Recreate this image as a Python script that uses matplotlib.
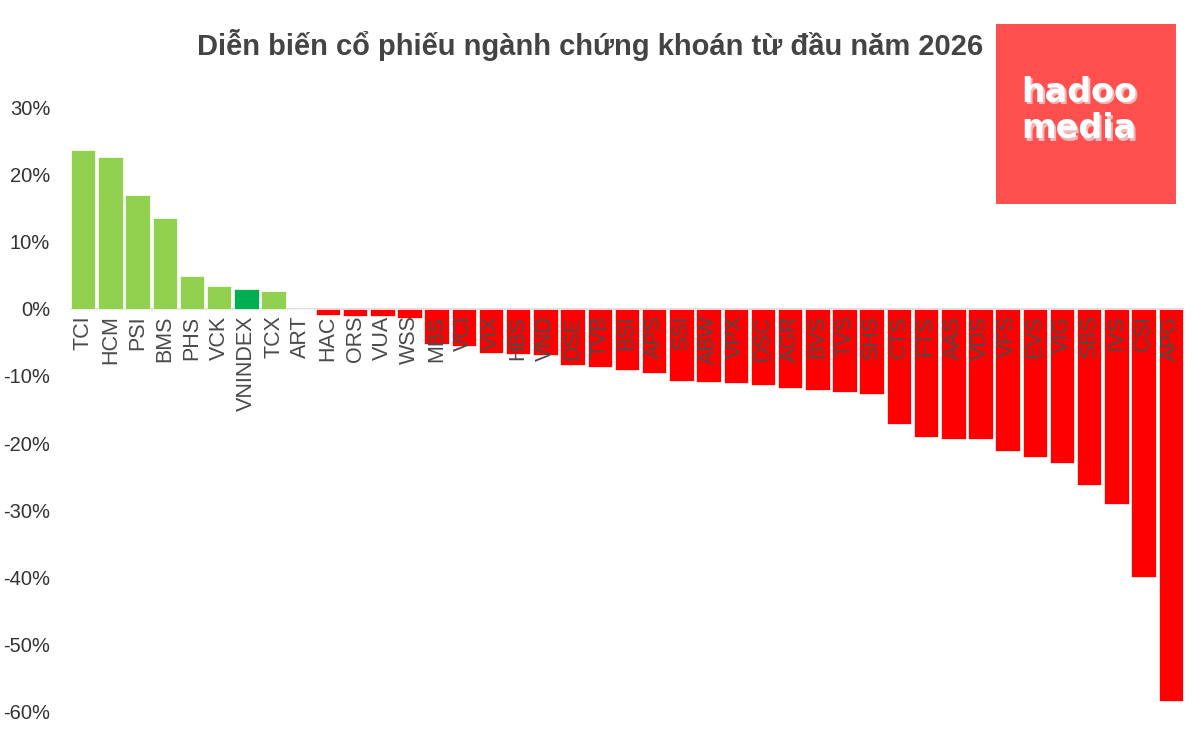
import numpy as np
import matplotlib
matplotlib.use("Agg")
import matplotlib.pyplot as plt
from matplotlib.patches import Rectangle

# === DATA ===
tickers = ["TCI", "HCM", "PSI", "BMS", "PHS", "VCK", "VNINDEX", "TCX", "ART",
           "HAC", "ORS", "VUA", "WSS", "MBS", "VCI", "VIX", "HBS", "VND",
           "DSE", "TVB", "BSI", "APS", "SSI", "ABW", "VPX", "DSC", "AGR",
           "BVS", "TVS", "SHS", "CTS", "FTS", "AAS", "VDS", "VFS", "EVS",
           "VIG", "SBS", "IVS", "CSI", "APG"]
change_pct = [23.6, 22.6, 16.9, 13.5, 4.8, 3.3, 3.0, 2.7, 0.0,
              -1.0, -1.1, -1.1, -1.4, -5.3, -5.6, -6.6, -6.8, -6.9,
              -8.4, -8.7, -9.1, -9.6, -10.8, -10.9, -11.1, -11.4, -11.8,
              -12.1, -12.4, -12.7, -17.1, -19.1, -19.4, -19.4, -21.1, -22.1,
              -22.9, -26.3, -29.0, -39.9, -58.3]
y_ticks = [30, 20, 10, 0, -10, -20, -30, -40, -50, -60]

title = "Diễn biến cổ phiếu ngành chứng khoán từ đầu năm 2026"

plt.rcParams['font.family'] = ['Liberation Sans', 'DejaVu Sans']

values = np.array(change_pct) / 100
x = np.arange(len(tickers))
colors = []
for t, v in zip(tickers, values):
    if t == "VNINDEX":
        colors.append("#00B050")
    elif v >= 0:
        colors.append("#92D050")
    else:
        colors.append("#FF0000")

fig = plt.figure(figsize=(12, 7.5), dpi=100)
ax = fig.add_axes([0.058, 0.0507, 0.929, 0.8066])

ax.bar(x, values, width=0.9, color=colors, edgecolor="white", linewidth=0.5, zorder=2)
ax.axhline(0, color="#d9d9d9", linewidth=1.2, zorder=1)

ax.set_xlim(-0.5, len(tickers) - 0.5)
ax.set_ylim(-0.6, 0.3)
ax.set_yticks(np.array(y_ticks) / 100)
ax.set_yticklabels([f"{v}%" for v in y_ticks], fontsize=14.5, color="#333333")
ax.tick_params(axis="y", length=0, pad=14)
ax.set_xticks([])

# ticker labels rotated, hanging just under the zero line
for xi, t in zip(x, tickers):
    ax.text(xi, -0.01, t, rotation=90, ha="center", va="top",
            fontsize=15.5, color="#4a4a4a", zorder=3)

for s in ax.spines.values():
    s.set_visible(False)

fig.text(0.492, 0.94, title, ha="center", va="center", fontsize=21,
         fontweight="bold", color="#444444")

# logo box
fig.patches.append(Rectangle((0.83, 0.728), 0.15, 0.24, transform=fig.transFigure,
                             facecolor="#FF4F4F", edgecolor="none", zorder=5))
for label, yy in [("hadoo", 0.877), ("media", 0.828)]:
    fig.text(0.901, yy - 0.003, label, ha="center", va="center", fontsize=24,
             fontweight="bold", family="DejaVu Sans", color="#f7b8b8", zorder=6)
    fig.text(0.899, yy, label, ha="center", va="center", fontsize=24,
             fontweight="bold", family="DejaVu Sans", color="white", zorder=7)

fig.savefig("out.png", dpi=100, facecolor="white")
